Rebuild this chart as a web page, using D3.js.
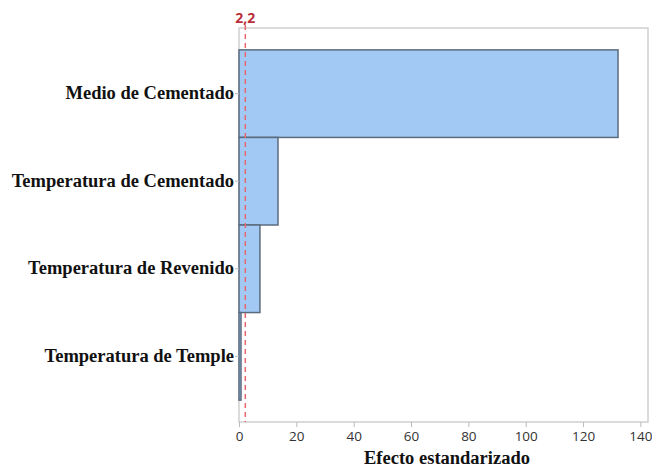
<!DOCTYPE html>
<html lang="en">
<head>
  <meta charset="UTF-8" />
  <title>Pareto efectos estandarizados</title>
  <script src="https://d3js.org/d3.v7.min.js"></script>
  <style>
    body { margin: 0; background: #fff; }
    .cat text { font-family: 'Liberation Serif', 'Times New Roman', serif; font-weight: bold; font-size: 18.5px; fill: #111; }
    .xaxis text { font-family: 'Open Sans', 'DejaVu Sans', sans-serif; font-size: 13.5px; fill: #333; }
  </style>
</head>
<body>
  <div id="chart"></div>
  <script>
    // Standardized effects
    const factors = ["Medio de Cementado", "Temperatura de Cementado", "Temperatura de Revenido", "Temperatura de Temple"];
    const effects = [132.2, 13.6, 7.3, 0.7];
    const xTicks = [0, 20, 40, 60, 80, 100, 120, 140];
    const critical = 2.2;
    const criticalLabel = "2,2";
    const xTitle = "Efecto estandarizado";

    const W = 652, H = 470;
    const margin = { top: 28, right: 4, bottom: 48, left: 239 };
    const width = 648 - margin.left;
    const height = H - margin.top - margin.bottom;

    const svg = d3.select("#chart").append("svg")
      .attr("width", W).attr("height", H);

    const g = svg.append("g").attr("transform", `translate(${margin.left},${margin.top})`);

    const x = d3.scaleLinear().domain([0, 140]).range([0, 401.4]);
    const y = d3.scaleBand().domain(factors).range([0, height]).paddingInner(0).paddingOuter(0.25);

    // frame
    g.append("rect")
      .attr("x", 0).attr("y", 0)
      .attr("width", width).attr("height", height)
      .attr("fill", "none").attr("stroke", "#cfcfcf").attr("stroke-width", 1.5);

    // bars
    g.selectAll(".bar")
      .data(factors)
      .enter().append("rect")
      .attr("class", "bar")
      .attr("x", x(0))
      .attr("y", d => y(d))
      .attr("width", (d, i) => x(effects[i]) - x(0))
      .attr("height", y.bandwidth())
      .attr("fill", "#a1c9f4")
      .attr("stroke", "#5b6b7e")
      .attr("stroke-width", 1.5);

    // critical value line
    g.append("line")
      .attr("x1", x(critical)).attr("x2", x(critical))
      .attr("y1", -3).attr("y2", height)
      .attr("stroke", "#e8676f").attr("stroke-width", 1.5)
      .attr("stroke-dasharray", "5,4");

    g.append("text")
      .attr("x", x(critical)).attr("y", -5)
      .attr("text-anchor", "middle")
      .attr("font-family", "'Open Sans', 'DejaVu Sans', sans-serif")
      .attr("font-weight", "bold").attr("font-size", 14)
      .attr("fill", "#b9303a")
      .text(criticalLabel);

    // axes
    const xAxis = g.append("g")
      .attr("class", "xaxis")
      .attr("transform", `translate(0,${height})`)
      .call(d3.axisBottom(x).tickValues(xTicks).tickSize(5).tickPadding(4));
    xAxis.select(".domain").remove();
    xAxis.selectAll("line").attr("stroke", "#bbb");

    const yAxis = g.append("g")
      .attr("class", "cat")
      .call(d3.axisLeft(y).tickSize(4).tickPadding(1));
    yAxis.select(".domain").remove();
    yAxis.selectAll("line").attr("stroke", "#bbb");
    yAxis.selectAll("text").attr("dy", "0.3em");

    // x title
    svg.append("text")
      .attr("x", 447).attr("y", 464)
      .attr("text-anchor", "middle")
      .attr("font-family", "'Liberation Serif', 'Times New Roman', serif")
      .attr("font-weight", "bold").attr("font-size", 18.5)
      .attr("fill", "#111")
      .text(xTitle);
  </script>
</body>
</html>
